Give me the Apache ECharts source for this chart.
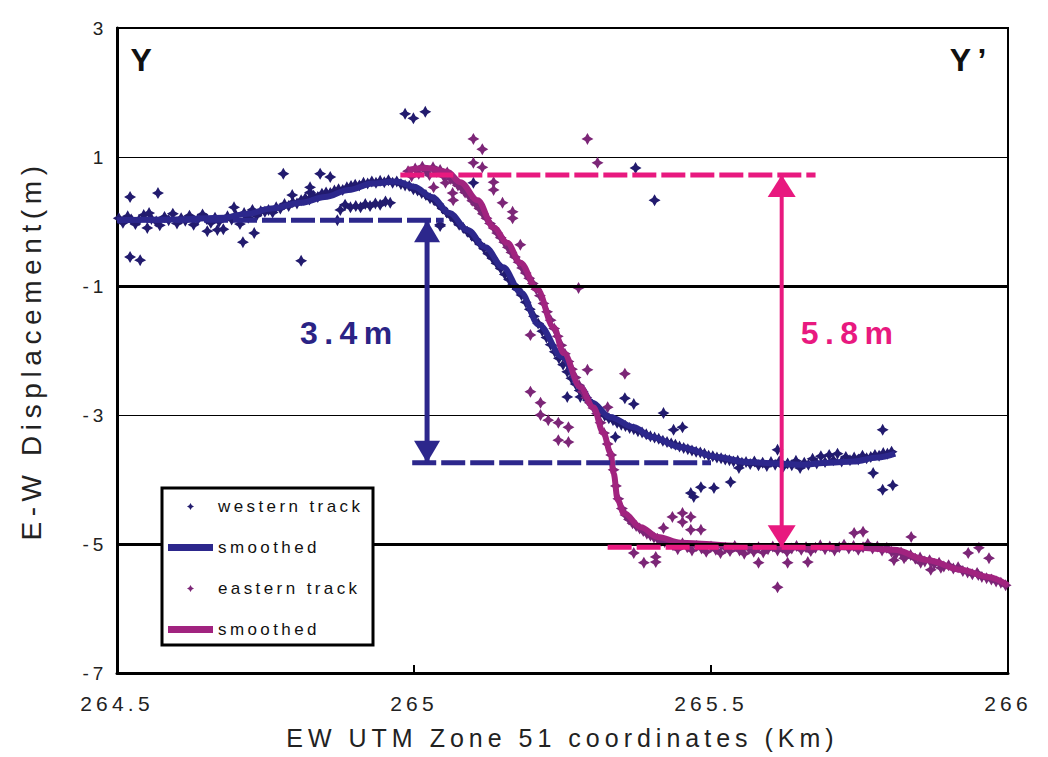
<!DOCTYPE html>
<html>
<head>
<meta charset="utf-8">
<script src="https://cdn.jsdelivr.net/npm/echarts@6/dist/echarts.min.js"></script>
<style>
  html, body { margin: 0; padding: 0; background: #fff; }
  #chart { width: 1048px; height: 757px; }
  #chart text { letter-spacing: 0.2em; }
</style>
</head>
<body>
<div id="chart"></div>
<script>
// Axis ticks
const xTicks = [264.5, 265, 265.5, 266];
const yTicks = [-7, -5, -3, -1, 1, 3];
const boldGridLevels = [-1, -5];

// Western track GPS displacement samples [km, m]
const westernTrack = [
  [264.503, 0.05], [264.510, -0.02], [264.518, 0.08], [264.524, 0.03], [264.531, -0.04], [264.537, 0.02],
  [264.545, 0.10], [264.551, -0.10], [264.558, 0.04], [264.566, 0.00], [264.572, -0.06], [264.580, 0.07],
  [264.587, 0.02], [264.594, 0.12], [264.601, -0.03], [264.608, 0.05], [264.615, 0.01], [264.622, 0.09],
  [264.629, -0.05], [264.636, 0.03], [264.644, 0.11], [264.651, 0.04], [264.658, -0.02], [264.665, 0.06],
  [264.672, 0.00], [264.679, -0.12], [264.686, 0.08], [264.693, 0.03], [264.700, 0.10], [264.707, -0.04],
  [264.714, 0.13], [264.721, 0.06], [264.728, 0.18], [264.735, 0.09], [264.742, 0.16], [264.749, 0.15],
  [264.522, 0.38], [264.522, -0.55], [264.539, -0.60], [264.569, 0.44], [264.554, 0.13], [264.652, -0.15],
  [264.669, -0.13], [264.712, -0.32], [264.731, -0.18], [264.780, 0.74], [264.810, -0.61], [264.795, 0.41],
  [264.697, 0.22], [264.842, 0.74], [264.859, 0.69], [264.825, 0.53], [264.825, 0.45], [264.825, 0.36],
  [264.871, 0.02], [264.876, 0.18], [264.884, 0.26], [264.893, 0.22], [264.902, 0.24], [264.910, 0.22],
  [264.918, 0.27], [264.926, 0.24], [264.935, 0.28], [264.943, 0.26], [264.952, 0.31], [264.960, 0.29],
  [264.755, 0.18], [264.762, 0.14], [264.768, 0.22], [264.775, 0.20], [264.782, 0.27], [264.789, 0.24],
  [264.796, 0.30], [264.803, 0.28], [264.810, 0.33], [264.817, 0.36], [264.824, 0.34], [264.831, 0.40],
  [264.838, 0.38], [264.845, 0.43], [264.852, 0.45], [264.859, 0.44], [264.866, 0.48], [264.873, 0.50],
  [264.880, 0.49], [264.887, 0.53], [264.894, 0.55], [264.901, 0.57], [264.908, 0.56], [264.915, 0.60],
  [264.922, 0.59], [264.929, 0.62], [264.936, 0.60], [264.943, 0.63], [264.950, 0.61], [264.957, 0.64],
  [264.964, 0.60], [264.971, 0.62], [264.978, 0.58], [264.985, 0.56], [264.992, 0.55], [264.999, 0.50],
  [265.006, 0.48], [265.013, 0.44], [265.020, 0.41], [265.027, 0.36], [265.034, 0.33], [265.041, 0.27],
  [265.048, 0.20], [265.055, 0.14], [265.062, 0.08], [265.069, 0.02], [265.076, -0.05], [265.083, -0.10],
  [265.090, -0.16], [265.097, -0.22], [265.104, -0.28], [265.111, -0.35], [265.118, -0.42], [265.125, -0.50],
  [265.132, -0.57], [265.139, -0.65], [265.146, -0.73], [265.153, -0.82], [265.160, -0.90], [265.167, -0.98],
  [265.174, -1.05], [265.181, -1.14], [265.188, -1.25], [265.195, -1.36], [265.202, -1.47], [265.209, -1.58],
  [265.216, -1.70], [265.223, -1.80], [265.230, -1.91], [265.237, -2.02], [265.244, -2.12], [265.251, -2.22],
  [265.258, -2.33], [265.265, -2.43], [265.272, -2.52], [265.279, -2.62], [265.286, -2.70], [265.293, -2.77],
  [265.300, -2.84], [265.307, -2.90], [265.314, -2.96], [265.321, -3.01], [265.328, -3.05], [265.335, -3.08],
  [265.342, -3.12], [265.349, -3.15], [265.356, -3.17], [265.363, -3.20], [265.370, -3.22], [265.377, -3.25],
  [265.384, -3.27], [265.391, -3.30], [265.398, -3.33], [265.405, -3.35], [265.412, -3.37], [265.419, -3.40],
  [265.426, -3.42], [265.433, -3.44], [265.440, -3.46], [265.447, -3.49], [265.454, -3.51], [265.461, -3.53],
  [265.468, -3.55], [265.475, -3.57], [265.482, -3.58], [265.489, -3.60], [265.496, -3.63], [265.503, -3.64],
  [265.510, -3.66], [265.517, -3.67], [265.524, -3.69], [265.531, -3.70], [265.538, -3.72], [265.545, -3.71],
  [265.552, -3.74], [265.559, -3.73], [265.566, -3.76], [265.573, -3.72], [265.580, -3.78], [265.587, -3.74],
  [265.594, -3.79], [265.601, -3.73], [265.608, -3.77], [265.615, -3.72], [265.622, -3.80], [265.629, -3.75],
  [265.636, -3.78], [265.643, -3.71], [265.650, -3.82], [265.657, -3.74], [265.664, -3.77], [265.671, -3.68],
  [265.678, -3.75], [265.685, -3.64], [265.692, -3.73], [265.699, -3.62], [265.706, -3.70], [265.713, -3.60],
  [265.720, -3.72], [265.727, -3.65], [265.734, -3.70], [265.741, -3.66], [265.748, -3.69], [265.755, -3.63],
  [265.762, -3.67], [265.769, -3.65], [265.776, -3.62], [265.783, -3.63], [265.790, -3.59], [265.797, -3.60],
  [265.804, -3.57],
  [264.985, 1.67], [264.999, 1.60], [265.019, 1.70], [265.373, 0.83], [265.405, 0.33], [265.100, 0.60],
  [265.044, -0.05], [265.044, -0.07], [265.258, -2.72], [265.280, -2.72], [265.355, -2.74], [265.370, -2.83],
  [265.420, -2.97], [265.437, -3.23], [265.452, -3.19], [265.339, -3.34], [265.466, -4.21], [265.483, -4.12],
  [265.505, -4.13], [265.533, -4.04], [265.471, -4.27], [265.547, -3.82], [265.612, -3.54], [265.789, -3.23],
  [265.773, -3.90], [265.789, -4.16], [265.806, -4.09]
];

// Western track smoothed profile
const westernSmoothed = [
  [264.50, 0.02], [264.60, 0.03], [264.68, 0.06], [264.72, 0.12], [264.76, 0.20], [264.81, 0.29],
  [264.85, 0.38], [264.89, 0.49], [264.93, 0.59], [264.97, 0.62], [265.00, 0.54], [265.03, 0.38],
  [265.06, 0.13], [265.09, -0.13], [265.12, -0.40], [265.15, -0.71], [265.18, -1.10], [265.21, -1.60],
  [265.25, -2.10], [265.28, -2.57], [265.30, -2.81], [265.33, -3.03], [265.37, -3.19], [265.40, -3.34],
  [265.45, -3.50], [265.51, -3.65], [265.56, -3.73], [265.61, -3.75], [265.65, -3.77], [265.70, -3.74],
  [265.74, -3.72], [265.78, -3.66], [265.81, -3.60]
];

// Eastern track GPS displacement samples [km, m]
const easternTrack = [
  [264.990, 0.78], [264.996, 0.70], [265.002, 0.82], [265.008, 0.74], [265.014, 0.85], [265.020, 0.79],
  [265.026, 0.72], [265.032, 0.84], [265.038, 0.77], [265.044, 0.80], [265.050, 0.70], [265.056, 0.76],
  [265.062, 0.66], [265.068, 0.62], [265.074, 0.56], [265.080, 0.52], [265.086, 0.45], [265.092, 0.40],
  [265.098, 0.32], [265.104, 0.27], [265.110, 0.20], [265.116, 0.12], [265.122, 0.05], [265.128, -0.03],
  [265.134, -0.10], [265.140, -0.18], [265.146, -0.25], [265.152, -0.32], [265.158, -0.40], [265.164, -0.48],
  [265.170, -0.55], [265.176, -0.63], [265.182, -0.72], [265.188, -0.80], [265.194, -0.88], [265.200, -0.96],
  [265.206, -1.05], [265.212, -1.15], [265.218, -1.27], [265.224, -1.40], [265.230, -1.53], [265.236, -1.66],
  [265.242, -1.78], [265.248, -1.92], [265.254, -2.05], [265.260, -2.17], [265.266, -2.29], [265.272, -2.42],
  [265.278, -2.54], [265.284, -2.64], [265.290, -2.73], [265.296, -2.81], [265.302, -2.89], [265.308, -2.98],
  [265.314, -3.12], [265.320, -3.28], [265.326, -3.45], [265.332, -3.62], [265.336, -3.85], [265.340, -4.10],
  [265.344, -4.30], [265.350, -4.45], [265.356, -4.55], [265.362, -4.62], [265.368, -4.68], [265.374, -4.72],
  [265.380, -4.76], [265.386, -4.80], [265.392, -4.84], [265.398, -4.87], [265.404, -4.90], [265.410, -4.92],
  [265.416, -4.95], [265.422, -4.97], [265.428, -4.98],
  [265.436, -5.02], [265.444, -5.08], [265.452, -4.99], [265.460, -5.05], [265.468, -5.10], [265.476, -5.03],
  [265.484, -5.07], [265.492, -5.12], [265.500, -5.04], [265.508, -5.09], [265.516, -5.14], [265.524, -5.06],
  [265.532, -5.11], [265.540, -5.03], [265.548, -5.10], [265.556, -5.15], [265.564, -5.07], [265.572, -5.12],
  [265.580, -5.05], [265.588, -5.13], [265.596, -5.08], [265.604, -5.04], [265.612, -5.10], [265.620, -5.06],
  [265.628, -5.12], [265.636, -5.07], [265.644, -5.03], [265.652, -5.09], [265.660, -5.05], [265.668, -5.11],
  [265.676, -5.06], [265.684, -5.02], [265.692, -5.08], [265.700, -5.04], [265.708, -5.10], [265.716, -5.05],
  [265.724, -5.01], [265.732, -5.07], [265.740, -5.03], [265.748, -5.09], [265.756, -5.05], [265.764, -5.00],
  [265.772, -5.07], [265.780, -5.04], [265.788, -5.10], [265.796, -5.06], [265.804, -5.12], [265.812, -5.15],
  [265.820, -5.13], [265.828, -5.19], [265.836, -5.17], [265.844, -5.23], [265.852, -5.21], [265.860, -5.27],
  [265.868, -5.25], [265.876, -5.31], [265.884, -5.29], [265.892, -5.35], [265.900, -5.33], [265.908, -5.38],
  [265.916, -5.36], [265.924, -5.42], [265.932, -5.44], [265.940, -5.47], [265.948, -5.45], [265.956, -5.51],
  [265.964, -5.53], [265.972, -5.55], [265.980, -5.58], [265.988, -5.60], [265.996, -5.64],
  [265.100, 1.28], [265.115, 1.12], [265.292, 1.28], [265.309, 0.91], [265.100, 0.91], [265.115, 0.84],
  [265.134, 0.61], [265.134, 0.49], [265.149, 0.29], [265.166, 0.15], [265.166, 0.05], [265.179, -0.36],
  [265.196, -1.76], [265.277, -1.03], [265.033, 0.53], [265.053, 0.60], [265.066, 0.33], [265.065, 0.44],
  [265.196, -2.64], [265.213, -2.81], [265.213, -3.00], [265.226, -3.08], [265.243, -3.12], [265.260, -3.19],
  [265.243, -3.39], [265.260, -3.42], [265.292, -2.30], [265.355, -2.36], [265.326, -2.88],
  [265.435, -4.58], [265.452, -4.52], [265.452, -4.66], [265.466, -4.58], [265.466, -4.78], [265.483, -4.78],
  [265.420, -4.75], [265.370, -5.14], [265.387, -5.29], [265.407, -5.20], [265.407, -5.28], [265.580, -5.29],
  [265.629, -5.29], [265.663, -5.28], [265.612, -5.67], [265.741, -4.83], [265.756, -4.81], [265.837, -4.89],
  [265.808, -5.25], [265.825, -5.22], [265.853, -5.29], [265.870, -5.40], [265.887, -5.37], [265.951, -5.06],
  [265.933, -5.14], [265.968, -5.22], [265.950, -5.48]
];

// Eastern track smoothed profile
const easternSmoothed = [
  [264.989, 0.80], [265.022, 0.83], [265.056, 0.77], [265.078, 0.61], [265.107, 0.33], [265.134, -0.09],
  [265.157, -0.33], [265.179, -0.64], [265.208, -1.06], [265.235, -1.64], [265.252, -2.04], [265.280, -2.57],
  [265.302, -2.88], [265.319, -3.28], [265.331, -3.59], [265.336, -3.90], [265.343, -4.32], [265.353, -4.52],
  [265.382, -4.74], [265.410, -4.89], [265.449, -4.98], [265.550, -5.03], [265.639, -5.05], [265.735, -5.05],
  [265.808, -5.09], [265.865, -5.25], [265.921, -5.40], [265.966, -5.51], [266.000, -5.64]
];

// Offset measurement guides: dashed reference levels and arrows
const westernLevelTop = [[264.50, 0.02], [265.05, 0.02]];
const westernLevelBottom = [[264.997, -3.74], [265.50, -3.74]];
const westernArrow = [[265.022, 0.02], [265.022, -3.74]];
const easternLevelTop = [[264.977, 0.72], [265.676, 0.72]];
const easternLevelBottom = [[265.326, -5.05], [265.760, -5.05]];
const easternArrow = [[265.619, 0.72], [265.619, -5.05]];

// Text annotations [km, m, text, colour]
const annotations = [
  [264.546, 2.50, 'Y', '#111'],
  [265.938, 2.50, 'Y\u2019', '#111'],
  [264.891, -1.73, '3.4m', '#2a2385'],
  [265.734, -1.73, '5.8m', '#e8197f']
];

const NAVY_PT = '#221b6e';
const NAVY_LINE = '#2c278c';
const PLUM_PT = '#7c2677';
const PLUM_LINE = '#a1237f';
const PINK = '#e8197f';
const STAR = 'path://M5,0 L6.8,3.2 L10,5 L6.8,6.8 L5,10 L3.2,6.8 L0,5 L3.2,3.2 Z';
const DOWN = 'path://M0,0 L10,0 L5,10 Z';
const FONT = '"Liberation Sans", Arial, sans-serif';

function arrowData(pts, w, h) {
  return [
    { value: pts[0], symbol: 'triangle', symbolSize: [w, h], symbolOffset: [0, h / 2] },
    { value: pts[1], symbol: DOWN, symbolSize: [w, h], symbolOffset: [0, -h / 2] }
  ];
}

function guide(data, color, width, dashed) {
  return {
    type: 'line', data: data, silent: true, z: 6,
    symbol: 'none', showSymbol: false,
    lineStyle: { color: color, width: width, type: dashed ? [24, 5] : 'solid' }
  };
}

const chart = echarts.init(document.getElementById('chart'), null, { renderer: 'svg' });

const option = {
  animation: false,
  backgroundColor: '#fff',
  textStyle: { fontFamily: FONT },
  grid: { left: 117, right: 40, top: 28, bottom: 84, show: true, borderColor: '#000', borderWidth: 2, backgroundColor: 'transparent' },
  xAxis: {
    type: 'value',
    min: xTicks[0], max: xTicks[xTicks.length - 1], interval: xTicks[1] - xTicks[0],
    name: 'EW UTM Zone 51 coordinates (Km)',
    nameLocation: 'middle', nameGap: 52,
    nameTextStyle: { fontSize: 25, color: '#222', fontFamily: FONT },
    axisLine: { show: true, onZero: false, lineStyle: { color: '#000', width: 3 } },
    axisTick: { show: true, inside: true, length: 8, lineStyle: { color: '#000', width: 2 } },
    axisLabel: { fontSize: 21, color: '#222', margin: 20, fontFamily: FONT },
    splitLine: { show: false }
  },
  yAxis: {
    type: 'value',
    min: yTicks[0], max: yTicks[yTicks.length - 1], interval: yTicks[1] - yTicks[0],
    name: 'E-W Displacement(m)',
    nameLocation: 'middle', nameGap: 72, nameRotate: 90,
    nameTextStyle: { fontSize: 28, color: '#222', fontFamily: FONT },
    axisLine: { show: true, onZero: false, lineStyle: { color: '#000', width: 3 } },
    axisTick: { show: false },
    axisLabel: { fontSize: 19, color: '#222', margin: 10, fontFamily: FONT },
    splitLine: { show: true, lineStyle: { color: '#000', width: 1.2 } }
  },
  legend: {
    orient: 'vertical', left: 168, top: 498, padding: 0,
    itemWidth: 45, itemHeight: 7, itemGap: 24, z: 20,
    selectedMode: false,
    data: [
      { name: 'western track', icon: STAR },
      { name: 'western smoothed', icon: 'rect' },
      { name: 'eastern track', icon: STAR },
      { name: 'eastern smoothed', icon: 'rect' }
    ],
    formatter: function (n) { return /smoothed$/.test(n) ? 'smoothed' : n; },
    textStyle: { fontSize: 17, color: '#111', fontFamily: FONT }
  },
  graphic: [{
    type: 'rect', z: 10, silent: true,
    shape: { x: 162, y: 488, width: 211, height: 157 },
    style: { fill: '#fff', stroke: '#000', lineWidth: 3 }
  }],
  series: [
    {
      name: 'grid-bold', type: 'scatter', data: [], silent: true, z: 1,
      markLine: {
        silent: true, symbol: 'none', label: { show: false }, animation: false,
        lineStyle: { color: '#000', width: 3, type: 'solid' },
        data: boldGridLevels.map(function (v) { return { yAxis: v }; })
      }
    },
    {
      name: 'western track', type: 'scatter', data: westernTrack, z: 3,
      symbol: STAR, symbolSize: 12, itemStyle: { color: NAVY_PT, opacity: 1 }
    },
    {
      name: 'eastern track', type: 'scatter', data: easternTrack, z: 3,
      symbol: STAR, symbolSize: 12, itemStyle: { color: PLUM_PT, opacity: 1 }
    },
    {
      name: 'western smoothed', type: 'line', data: westernSmoothed, z: 4,
      smooth: 0.35, smoothMonotone: 'x', showSymbol: false, symbol: 'none',
      lineStyle: { color: NAVY_LINE, width: 6 }, itemStyle: { color: NAVY_LINE }
    },
    {
      name: 'eastern smoothed', type: 'line', data: easternSmoothed, z: 4,
      smooth: 0.35, smoothMonotone: 'x', showSymbol: false, symbol: 'none',
      lineStyle: { color: PLUM_LINE, width: 6 }, itemStyle: { color: PLUM_LINE }
    },
    guide(westernLevelTop, NAVY_LINE, 5, true),
    guide(westernLevelBottom, NAVY_LINE, 5, true),
    guide(easternLevelTop, PINK, 5, true),
    guide(easternLevelBottom, PINK, 5, true),
    {
      type: 'line', silent: true, z: 7, data: arrowData(westernArrow, 26, 22),
      showSymbol: true, showAllSymbol: true,
      lineStyle: { color: NAVY_LINE, width: 5 }, itemStyle: { color: NAVY_LINE }
    },
    {
      type: 'line', silent: true, z: 7, data: arrowData(easternArrow, 28, 22),
      showSymbol: true, showAllSymbol: true,
      lineStyle: { color: PINK, width: 4 }, itemStyle: { color: PINK }
    }
  ]
};

chart.setOption(option);

// Place text annotations at their data positions
const texts = annotations.map(function (a) {
  const p = chart.convertToPixel({ gridIndex: 0 }, [a[0], a[1]]);
  return {
    type: 'text', z: 12, silent: true, x: p[0], y: p[1],
    style: {
      text: a[2], fill: a[3], align: 'center', verticalAlign: 'middle',
      font: 'bold 32px ' + FONT
    }
  };
});
chart.setOption({ graphic: option.graphic.concat(texts) });
</script>
</body>
</html>
